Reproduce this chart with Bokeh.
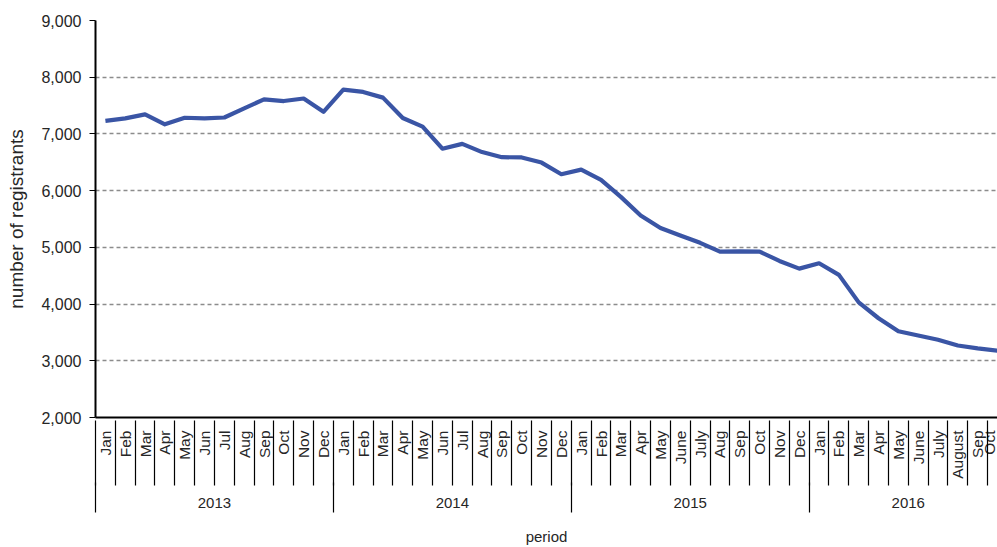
import math
from bokeh.plotting import figure
from bokeh.models import FixedTicker, LinearAxis, NumeralTickFormatter, Range1d, ColumnDataSource
from bokeh.embed import file_html
from bokeh.resources import INLINE

years = ["2013", "2014", "2015", "2016"]
months_per_year = [12, 12, 12, 10]
month_labels = [
    "Jan", "Feb", "Mar", "Apr", "May", "Jun", "Jul", "Aug", "Sep", "Oct", "Nov", "Dec",
    "Jan", "Feb", "Mar", "Apr", "May", "Jun", "Jul", "Aug", "Sep", "Oct", "Nov", "Dec",
    "Jan", "Feb", "Mar", "Apr", "May", "June", "July", "Aug", "Sep", "Oct", "Nov", "Dec",
    "Jan", "Feb", "Mar", "Apr", "May", "June", "July", "August", "Sep", "Oct",
]
registrants = [
    7230, 7275, 7345, 7170, 7285, 7275, 7290, 7450, 7610, 7580, 7625, 7390,
    7780, 7740, 7640, 7280, 7130, 6740, 6825, 6680, 6590, 6585, 6495, 6290,
    6370, 6190, 5890, 5560, 5340, 5210, 5080, 4925, 4930, 4925, 4760, 4625,
    4720, 4515, 4030, 3750, 3520, 3445, 3370, 3270, 3220, 3180,
]
y_ticks = [2000, 3000, 4000, 5000, 6000, 7000, 8000, 9000]
x_title = "period"
y_title = "number of registrants"

n = len(registrants)
x = list(range(n))
src = ColumnDataSource(dict(x=x, y=registrants))

FONT = "Liberation Sans"
TXT = "#262626"

x_start, x_end = -0.5, n - 1
p = figure(width=997, height=547, output_backend="svg", toolbar_location=None,
           x_range=Range1d(x_start, x_end), y_range=Range1d(2000, 9000),
           min_border_left=95, min_border_right=0, min_border_top=20, min_border_bottom=129,
           x_axis_location=None)
p.outline_line_color = None
p.background_fill_color = "white"
p.border_fill_color = "white"

p.line("x", "y", source=src, line_color="#3A55A5", line_width=4.2, line_join="round")

# y axis
ya = p.yaxis[0]
ya.ticker = FixedTicker(ticks=y_ticks, minor_ticks=[])
ya.formatter = NumeralTickFormatter(format="0,0")
ya.axis_label = y_title
ya.axis_label_text_font = FONT
ya.axis_label_text_font_size = "19px"
ya.axis_label_text_font_style = "normal"
ya.axis_label_text_color = TXT
ya.axis_label_standoff = 11
ya.major_label_text_font = FONT
ya.major_label_text_font_size = "16px"
ya.major_label_text_color = TXT
ya.major_label_standoff = 8
ya.major_tick_out = 6
ya.major_tick_in = 0
ya.major_tick_line_color = "black"
ya.axis_line_color = "black"
ya.axis_line_width = 2

p.xgrid.visible = False
p.ygrid.ticker = FixedTicker(ticks=y_ticks[1:])
p.ygrid.grid_line_color = "#8c8c8c"
p.ygrid.grid_line_dash = "4 3"
p.ygrid.grid_line_width = 1.3

# year boundaries
starts = []
s = 0
for m in months_per_year:
    starts.append(s)
    s += m
centers = [st + (m - 1) / 2 for st, m in zip(starts, months_per_year)]
bounds = [st - 0.5 for st in starts]

# month label axis (closest to the frame)
month_axis = LinearAxis(
    ticker=FixedTicker(ticks=x, minor_ticks=[]),
    major_label_overrides={i: lab for i, lab in enumerate(month_labels)},
    major_label_orientation=math.pi / 2,
    major_label_text_font=FONT, major_label_text_font_size="15.5px",
    major_label_text_color=TXT, major_label_standoff=13,
    major_tick_out=0, major_tick_in=0,
    axis_line_color="black", axis_line_width=2,
)
p.add_layout(month_axis, "below")

# month separators (ticks reaching up across the month labels) + year labels
MA_EXTENT = 61      # height taken by the month-label axis
MONTH_SEP = 65      # month separator length below the frame
year_axis = LinearAxis(
    ticker=FixedTicker(ticks=centers, minor_ticks=[i - 0.5 for i in x]),
    major_label_overrides={c: y for c, y in zip(centers, years)},
    major_label_text_font=FONT, major_label_text_font_size="15px",
    major_label_text_color=TXT, major_label_standoff=12,
    major_tick_out=0, major_tick_in=0,
    minor_tick_in=MA_EXTENT, minor_tick_out=MONTH_SEP - MA_EXTENT,
    minor_tick_line_color="black", minor_tick_line_width=1.2,
    axis_line_color=None,
)
p.add_layout(year_axis, "below")

# year separators + x title
YA_EXTENT = 93      # cumulative height of the two axes above
YEAR_SEP = 95
mid = (x_start + x_end) / 2
sep_axis = LinearAxis(
    ticker=FixedTicker(ticks=[mid], minor_ticks=bounds),
    major_label_overrides={mid: x_title},
    major_label_text_font=FONT, major_label_text_font_size="15px",
    major_label_text_line_height=1.0,
    major_label_text_color=TXT, major_label_standoff=15,
    major_tick_out=0, major_tick_in=0,
    minor_tick_in=YA_EXTENT - MONTH_SEP, minor_tick_out=YEAR_SEP - YA_EXTENT,
    minor_tick_line_color="black", minor_tick_line_width=1.2,
    axis_line_color=None,
)
p.add_layout(sep_axis, "below")

open("out.html", "w").write(file_html(p, INLINE))
